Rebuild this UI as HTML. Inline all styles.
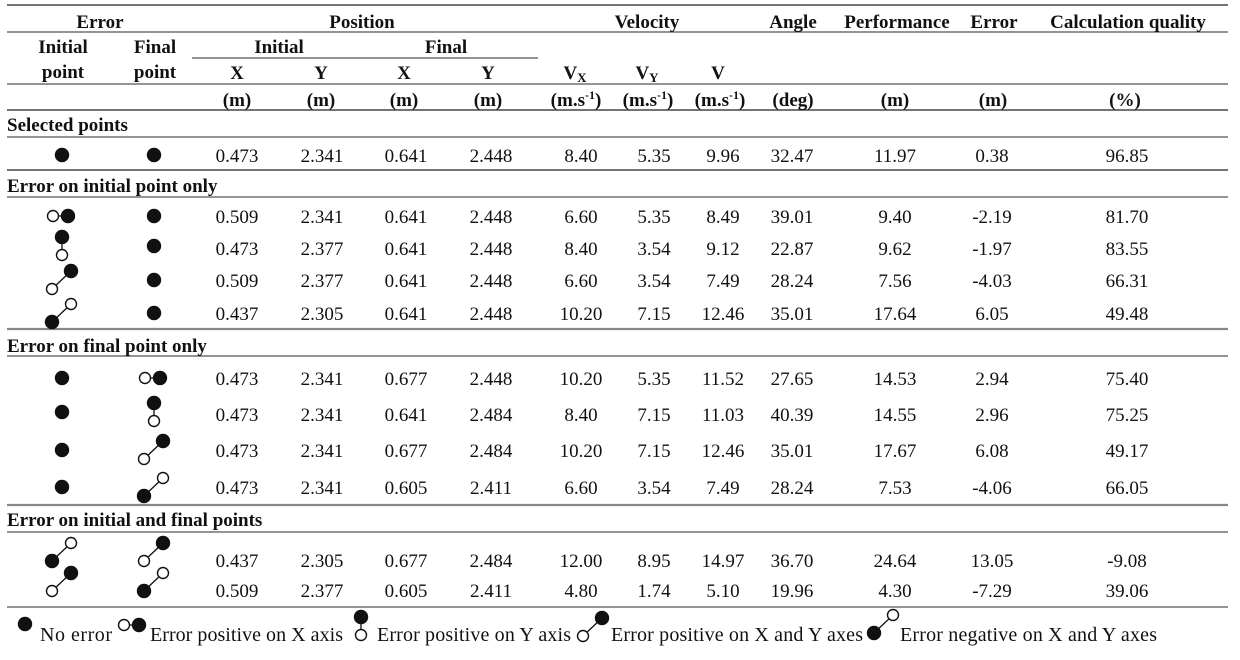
<!DOCTYPE html>
<html>
<head>
<meta charset="utf-8">
<style>
  html,body{margin:0;padding:0;background:#fff;}
  svg{display:block;}
  text{font-family:"Liberation Serif",serif;fill:#111;}
  .b{font-weight:bold;font-size:19px;}
  .d{font-size:19px;}
  .lg{font-size:20px;}
</style>
</head>
<body>
<svg id="tbl" width="1240" height="660" viewBox="0 0 1240 660" xmlns="http://www.w3.org/2000/svg">
  <g stroke="#222" stroke-width="1.3">
    <line x1="7" y1="5" x2="1228" y2="5"/>
    <line x1="7" y1="32" x2="1228" y2="32" stroke="#555"/>
    <line x1="192" y1="58" x2="538" y2="58" stroke="#555"/>
    <line x1="7" y1="84" x2="1228" y2="84" stroke="#555"/>
    <line x1="7" y1="110" x2="1228" y2="110"/>
    <line x1="7" y1="137" x2="1228" y2="137" stroke="#555"/>
    <line x1="7" y1="170" x2="1228" y2="170"/>
    <line x1="7" y1="197" x2="1228" y2="197" stroke="#555"/>
    <line x1="7" y1="329" x2="1228" y2="329" stroke="#888" stroke-width="2.2"/>
    <line x1="7" y1="356" x2="1228" y2="356" stroke="#555"/>
    <line x1="7" y1="505" x2="1228" y2="505" stroke="#888" stroke-width="2.2"/>
    <line x1="7" y1="532" x2="1228" y2="532" stroke="#555"/>
    <line x1="7" y1="607" x2="1228" y2="607" stroke="#555"/>
  </g>
  <g text-anchor="middle" class="b">
    <text x="100" y="28" class="b">Error</text>
    <text x="362" y="28" class="b">Position</text>
    <text x="647" y="28" class="b">Velocity</text>
    <text x="793" y="28" class="b">Angle</text>
    <text x="897" y="28" class="b">Performance</text>
    <text x="994" y="28" class="b">Error</text>
    <text x="1128" y="28" class="b">Calculation quality</text>

    <text x="63" y="53" class="b">Initial</text>
    <text x="155" y="53" class="b">Final</text>
    <text x="279" y="53" class="b">Initial</text>
    <text x="446" y="53" class="b">Final</text>

    <text x="63" y="78" class="b">point</text>
    <text x="155" y="78" class="b">point</text>
    <text x="237" y="79" class="b">X</text>
    <text x="321" y="79" class="b">Y</text>
    <text x="404" y="79" class="b">X</text>
    <text x="488" y="79" class="b">Y</text>
    <text x="575" y="79" class="b">V<tspan font-size="13" dy="3">X</tspan></text>
    <text x="647" y="79" class="b">V<tspan font-size="13" dy="3">Y</tspan></text>
    <text x="718" y="79" class="b">V</text>

    <text x="237" y="106" class="b">(m)</text>
    <text x="321" y="106" class="b">(m)</text>
    <text x="404" y="106" class="b">(m)</text>
    <text x="488" y="106" class="b">(m)</text>
    <text x="576" y="106" class="b">(m.s<tspan font-size="12" dy="-7">-1</tspan><tspan dy="7">)</tspan></text>
    <text x="648" y="106" class="b">(m.s<tspan font-size="12" dy="-7">-1</tspan><tspan dy="7">)</tspan></text>
    <text x="720" y="106" class="b">(m.s<tspan font-size="12" dy="-7">-1</tspan><tspan dy="7">)</tspan></text>
    <text x="793" y="106" class="b">(deg)</text>
    <text x="895" y="106" class="b">(m)</text>
    <text x="993" y="106" class="b">(m)</text>
    <text x="1125" y="106" class="b">(%)</text>
  </g>
  <g class="b">
    <text x="7" y="131" class="b">Selected points</text>
    <text x="7" y="192" class="b">Error on initial point only</text>
    <text x="7" y="352" class="b">Error on final point only</text>
    <text x="7" y="526" class="b">Error on initial and final points</text>
  </g>
  <g id="rows"></g>
  <g id="legend">
    <text x="40" y="641" class="lg" textLength="72">No error</text>
    <text x="150" y="641" class="lg" textLength="193">Error positive on X axis</text>
    <text x="377" y="641" class="lg" textLength="194">Error positive on Y axis</text>
    <text x="611" y="641" class="lg" textLength="252">Error positive on X and Y axes</text>
    <text x="900" y="641" class="lg" textLength="257">Error negative on X and Y axes</text>
  </g>
</svg>
<script>
// Table data
const rowY = [155, 216, 248, 280, 313, 378, 414, 450, 487, 560, 590];
const initialIcon = ['N','X','Y','XY','NEG','N','N','N','N','NEG','XY'];
const finalIcon = ['N','N','N','N','N','X','Y','XY','NEG','XY','NEG'];
const iconShift = [0,0,-2,0,0,0,-2,0,0,-8,-8];
const xInitial = ['0.473','0.509','0.473','0.509','0.437','0.473','0.473','0.473','0.473','0.437','0.509'];
const yInitial = ['2.341','2.341','2.377','2.377','2.305','2.341','2.341','2.341','2.341','2.305','2.377'];
const xFinal = ['0.641','0.641','0.641','0.641','0.641','0.677','0.641','0.677','0.605','0.677','0.605'];
const yFinal = ['2.448','2.448','2.448','2.448','2.448','2.448','2.484','2.484','2.411','2.484','2.411'];
const vx = ['8.40','6.60','8.40','6.60','10.20','10.20','8.40','10.20','6.60','12.00','4.80'];
const vy = ['5.35','5.35','3.54','3.54','7.15','5.35','7.15','7.15','3.54','8.95','1.74'];
const v = ['9.96','8.49','9.12','7.49','12.46','11.52','11.03','12.46','7.49','14.97','5.10'];
const angle = ['32.47','39.01','22.87','28.24','35.01','27.65','40.39','35.01','28.24','36.70','19.96'];
const performance = ['11.97','9.40','9.62','7.56','17.64','14.53','14.55','17.67','7.53','24.64','4.30'];
const errorM = ['0.38','-2.19','-1.97','-4.03','6.05','2.94','2.96','6.08','-4.06','13.05','-7.29'];
const quality = ['96.85','81.70','83.55','66.31','49.48','75.40','75.25','49.17','66.05','-9.08','39.06'];

const NS = 'http://www.w3.org/2000/svg';
const rowsG = document.getElementById('rows');
const legendG = document.getElementById('legend');

function circ(g, x, y, r, filled) {
  const c = document.createElementNS(NS, 'circle');
  c.setAttribute('cx', x); c.setAttribute('cy', y); c.setAttribute('r', r);
  c.setAttribute('fill', filled ? '#111' : '#fff');
  c.setAttribute('stroke', '#111'); c.setAttribute('stroke-width', '1.4');
  
  
  g.appendChild(c);
}
function seg(g, x1, y1, x2, y2) {
  const l = document.createElementNS(NS, 'line');
  l.setAttribute('x1', x1); l.setAttribute('y1', y1); l.setAttribute('x2', x2); l.setAttribute('y2', y2);
  l.setAttribute('stroke', '#111'); l.setAttribute('stroke-width', '1.3');
  
  
  g.appendChild(l);
}
function icon(parent, type, cx, cy) {
  const g = document.createElementNS(NS, 'g');
  
  
  if (type === 'N') { circ(g, cx, cy, 6.5, true); }
  else if (type === 'X') { seg(g, cx-9, cy, cx+6, cy); circ(g, cx-9, cy, 5.5, false); circ(g, cx+6, cy, 6.5, true); }
  else if (type === 'Y') { seg(g, cx, cy-9, cx, cy+9); circ(g, cx, cy+9, 5.5, false); circ(g, cx, cy-9, 6.5, true); }
  else if (type === 'XY') { seg(g, cx-10, cy+9, cx+9, cy-9); circ(g, cx-10, cy+9, 5.5, false); circ(g, cx+9, cy-9, 6.5, true); }
  else if (type === 'NEG') { seg(g, cx-10, cy+9, cx+9, cy-9); circ(g, cx+9, cy-9, 5.5, false); circ(g, cx-10, cy+9, 6.5, true); }
  parent.appendChild(g);
}
function cell(parent, x, y, str, name) {
  const t = document.createElementNS(NS, 'text');
  t.setAttribute('x', x); t.setAttribute('y', y);
  t.setAttribute('text-anchor', 'middle');
  t.setAttribute('class', 'd');
  
  
  t.textContent = str;
  parent.appendChild(t);
}
const cols = [
  [237, xInitial, 'cell-x-initial'], [322, yInitial, 'cell-y-initial'],
  [406, xFinal, 'cell-x-final'], [491, yFinal, 'cell-y-final'],
  [581, vx, 'cell-vx'], [654, vy, 'cell-vy'], [723, v, 'cell-v'],
  [792, angle, 'cell-angle'], [895, performance, 'cell-performance'],
  [992, errorM, 'cell-error'], [1127, quality, 'cell-quality']
];
for (let i = 0; i < rowY.length; i++) {
  const g = document.createElementNS(NS, 'g');
  
  
  const y = rowY[i];
  icon(g, initialIcon[i], 62, y + iconShift[i]);
  icon(g, finalIcon[i], 154, y + iconShift[i]);
  for (const c of cols) cell(g, c[0], y + 7, c[1][i], c[2]);
  rowsG.appendChild(g);
}
// legend icons
icon(legendG, 'N', 25, 624);
icon(legendG, 'X', 133, 625);
icon(legendG, 'Y', 361, 626);
icon(legendG, 'XY', 593, 627);
icon(legendG, 'NEG', 884, 624);
</script>
</body>
</html>
